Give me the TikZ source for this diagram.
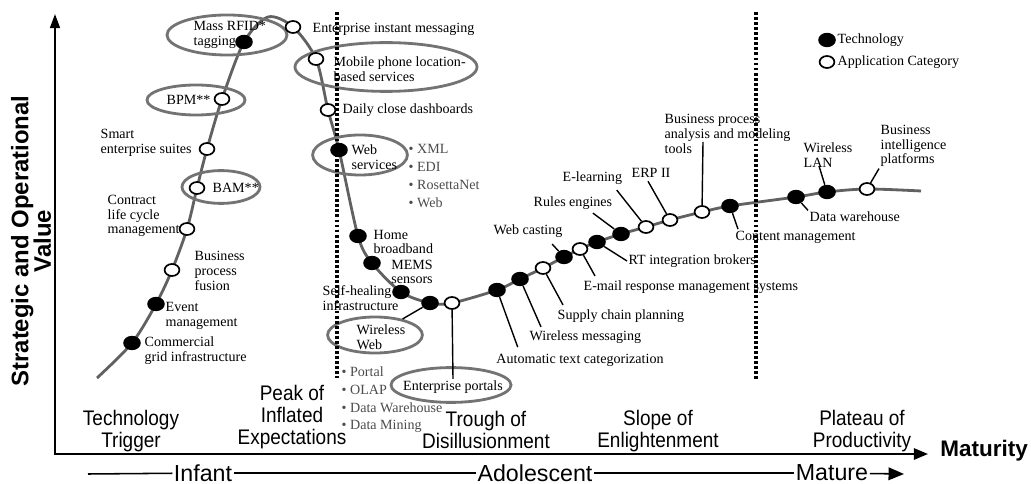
\documentclass[tikz,border=0pt]{standalone}
\usepackage{fontspec}
\setmainfont{Liberation Serif}
\setsansfont{Liberation Sans}
\newfontfamily\phasefont[FakeStretch=0.9]{Liberation Sans}
\usetikzlibrary{shapes.geometric,arrows.meta,calc}

\begin{document}
\begin{tikzpicture}[x=0.025cm,y=-0.025cm]

		\tikzstyle{tech}=[ellipse,fill=black,minimum width=0.44cm,minimum height=0.36cm,inner sep=0]
		\tikzstyle{app}=[ellipse,fill=white,draw=black,line width=1.2pt,
			minimum width=0.37cm,minimum height=0.3cm,inner sep=0]
		\tikzstyle{lbl}=[font=\fontsize{10}{10.5}\selectfont,inner sep=1pt,align=left]
		\tikzstyle{sublist}=[lbl,text=black!70,font=\fontsize{10}{12.6}\selectfont]
		\tikzstyle{ring}=[ellipse,draw=black!55,line width=2pt,inner sep=0]
		\tikzstyle{lead}=[draw=black,line width=1pt]
		\tikzstyle{curve}=[draw=black!62,line width=2pt]
		\tikzstyle{phase}=[font=\phasefont\fontsize{15}{15.5}\selectfont,align=center]
		\tikzstyle{stage}=[font=\sffamily\fontsize{16.5}{16.5}\selectfont,inner sep=1pt]
		\tikzstyle{divider}=[line width=2.2pt,dash pattern=on 2pt off 1.6pt]

		\useasboundingbox (0,0) rectangle (1031,484);

		% points on the hype curve
		\foreach \n/\x/\y in {head/97/378, grid/132/343, event/156/304, fusion/172/270,
			contract/187/229, bam/197/188, smart/207/149, bpm/222/99, rfid/244/42,
			peak/268/17, eim/293/27, mobile/316/59, daily/328/110, websvc/339/150,
			home/358/236, mems/372/263, selfheal/401/292, wweb/430/303, portals/452/303,
			atc/497/290, wmsg/520/279, supply/543/268, webcast/564/257, email/580/249,
			rtib/597/242, rules/621/234, elearn/646/227, erp/670/220, bpa/702/212,
			content/730/206, dwh/796/197, wlan/827/192, bi/867/189, tail/921/191}
			\coordinate (p-\n) at (\x,\y);

		\draw[curve] plot[smooth,tension=0.5] coordinates {(p-head) (p-grid) (p-event) (p-fusion)
			(p-contract) (p-bam) (p-smart) (p-bpm) (p-rfid) (p-peak) (p-eim) (p-mobile)
			(p-daily) (p-websvc) (p-home) (p-mems) (p-selfheal) (p-wweb) (p-portals)
			(p-atc) (p-wmsg) (p-supply) (p-webcast) (p-email) (p-rtib) (p-rules)
			(p-elearn) (p-erp) (p-bpa) (p-content) (p-dwh) (p-wlan) (p-bi) (p-tail)};

		\node[ring,minimum width=3cm,minimum height=1cm]		(e-rfid)	at (227,35)	{};
		\node[ring,minimum width=2.45cm,minimum height=0.75cm]	(e-bpm)		at (196,100)	{};
		\node[ring,minimum width=1.95cm,minimum height=0.82cm]	(e-bam)		at (221,187)	{};
		\node[ring,minimum width=4.55cm,minimum height=1.22cm]	(e-mobile)	at (386,67)	{};
		\node[ring,minimum width=2.37cm,minimum height=1cm]		(e-websvc)	at (360,155)	{};
		\node[ring,minimum width=2.37cm,minimum height=0.9cm]	(e-wweb)	at (375,335)	{};
		\node[ring,minimum width=3cm,minimum height=0.87cm]		(e-portals)	at (451,385)	{};

		\node[lbl,anchor=west]	(t-grid)	at (143,351)	{Commercial\\grid infrastructure};
		\node[lbl,anchor=west]	(t-event)	at (164,316)	{Event\\management};
		\node[lbl,anchor=west]	(t-fusion)	at (193,271)	{Business\\process\\fusion};
		\node[lbl,anchor=west]	(t-contract)	at (106,216)	{Contract\\life cycle\\management};
		\node[lbl,anchor=west]	(t-bam)		at (211,188)	{BAM**};
		\node[lbl,anchor=west]	(t-smart)	at (99,143)	{Smart\\enterprise suites};
		\node[lbl,anchor=west]	(t-bpm)		at (165,100)	{BPM**};
		\node[lbl,anchor=west]	(t-rfid)	at (192,35)	{Mass RFID*\\tagging};
		\node[lbl,anchor=west]	(t-eim)		at (311,29)	{Enterprise instant messaging};
		\node[lbl,anchor=west]	(t-mobile)	at (332,69)	{Mobile phone location-\\based services};
		\node[lbl,anchor=west]	(t-daily)	at (341,110)	{Daily close dashboards};
		\node[lbl,anchor=west]	(t-websvc)	at (350,157)	{Web\\services};
		\node[sublist,anchor=west]	(t-wslist)	at (407,176)	{\textbullet\ XML\\\textbullet\ EDI\\\textbullet\ RosettaNet\\\textbullet\ Web};
		\node[lbl,anchor=west]	(t-home)	at (372,242)	{Home\\broadband};
		\node[lbl,align=center]	(t-mems)	at (412,272)	{MEMS\\sensors};
		\node[lbl,anchor=west]	(t-selfheal)	at (321,298)	{Self-healing\\infrastructure};
		\node[lbl,anchor=west]	(t-wweb)	at (355,337)	{Wireless\\Web};
		\node[sublist,anchor=west]	(t-portlist)	at (340,400)	{\textbullet\ Portal\\\textbullet\ OLAP\\\textbullet\ Data Warehouse\\\textbullet\ Data Mining};
		\node[lbl]		(t-portals)	at (453,387)	{Enterprise portals};
		\node[lbl]		(t-atc)		at (580,360)	{Automatic text categorization};
		\node[lbl,anchor=west]	(t-wmsg)	at (528,337)	{Wireless messaging};
		\node[lbl,anchor=west]	(t-supply)	at (556,316)	{Supply chain planning};
		\node[lbl,anchor=west]	(t-webcast)	at (492,231)	{Web casting};
		\node[lbl,anchor=west]	(t-email)	at (582,287)	{E-mail response management systems};
		\node[lbl,anchor=west]	(t-rtib)	at (627,261)	{RT integration brokers};
		\node[lbl,anchor=west]	(t-rules)	at (532,203)	{Rules engines};
		\node[lbl,anchor=west]	(t-elearn)	at (561,178)	{E-learning};
		\node[lbl,anchor=west]	(t-erp)		at (630,173)	{ERP II};
		\node[lbl,anchor=west]	(t-bpa)		at (663,134)	{Business process\\analysis and modeling\\tools};
		\node[lbl,anchor=west]	(t-content)	at (734,237)	{Content management};
		\node[lbl,anchor=west]	(t-dwh)		at (808,217)	{Data warehouse};
		\node[lbl,anchor=west]	(t-wlan)	at (802,155)	{Wireless\\LAN};
		\node[lbl,anchor=west]	(t-bi)		at (879,146)	{Business\\intelligence\\platforms};

		% phase boundaries
		\coordinate (v1-top) at (337,12);	\coordinate (v1-bot) at (337,378);
		\coordinate (v2-top) at (756,12);	\coordinate (v2-bot) at (756,380);
		\draw[divider] (v1-top) -- (v1-bot);
		\draw[divider] (v2-top) -- (v2-bot);

		\foreach \n in {grid,event,rfid,websvc,home,mems,selfheal,wweb,atc,wmsg,webcast,
			rtib,rules,content,dwh,wlan}
			\node[tech] (\n) at (p-\n) {};
		\foreach \n in {fusion,contract,bam,smart,bpm,eim,mobile,daily,portals,supply,
			email,elearn,erp,bpa,bi}
			\node[app] (\n) at (p-\n) {};

		\draw[lead] (wweb) -- (e-wweb);
		\draw[lead] (portals) -- (t-portals.north);
		\draw[lead] (atc) -- ($(t-atc.north west)+(23,-5)$);
		\draw[lead] (wmsg) -- ($(t-wmsg.north west)+(13,-2)$);
		\draw[lead] (supply) -- ($(t-supply.north west)+(7,-3)$);
		\draw[lead] (webcast) -- ($(t-webcast.south east)+(-12,5)$);
		\draw[lead] (email) -- ($(t-email.north west)+(13,-3)$);
		\draw[lead] (rtib) -- (t-rtib.west);
		\draw[lead] (rules) -- ($(t-rules.south east)+(-21,2)$);
		\draw[lead] (elearn) -- ($(t-elearn.south east)+(-7,4)$);
		\draw[lead] (erp) -- ($(t-erp.south)+(-3,2)$);
		\draw[lead] (bpa) -- ($(t-bpa.north west)+(40,29)$);
		\draw[lead] (content) -- ($(t-content.north west)+(4,0)$);
		\draw[lead] (dwh) -- (t-dwh.north west);
		\draw[lead] (wlan) -- ($(t-wlan.south west)+(17,-3)$);
		\draw[lead] (bi) -- (t-bi.south west);

		% legend
		\node[tech]		(key-tech)	at (827,40)	{};
		\node[lbl,anchor=west]	(key-tech-t)	at (836,40)	{Technology};
		\node[app]		(key-app)	at (827,62)	{};
		\node[lbl,anchor=west]	(key-app-t)	at (836,62)	{Application Category};

		% axes
		\coordinate (ytop) at (55,14);
		\coordinate (orig) at (55,454);
		\coordinate (xend) at (928,454);
		\draw[line width=1.4pt,{Triangle[length=10pt,width=7pt]}-{Triangle[length=10pt,width=8pt]}] (ytop) -- (orig) -- (xend);

		\node[font=\sffamily\bfseries\fontsize{17}{16}\selectfont,rotate=90,align=center]	(value)	at (31,241)	{Strategic and Operational\\Value};
		\node[font=\sffamily\bfseries\fontsize{16}{18}\selectfont]	(maturity)	at (984,451)	{Maturity};

		\node[phase]	(trigger)	at (131,431)	{Technology\\Trigger};
		\node[phase]	(peakph)	at (292,417)	{Peak of\\Inflated\\Expectations};
		\node[phase]	(trough)	at (486,430)	{Trough of\\Disillusionment};
		\node[phase]	(slope)		at (658,431)	{Slope of\\Enlightenment};
		\node[phase]	(plateau)	at (862,431)	{Plateau of\\Productivity};

		% life stages
		\coordinate (s-start) at (88,474);
		\coordinate (s-end) at (904,474);
		\node[stage]	(infant)	at (203,473)	{Infant};
		\node[stage]	(adolescent)	at (535,473)	{Adolescent};
		\node[stage]	(mature)	at (832,473)	{Mature};
		\draw[line width=1.1pt] (s-start) -- (infant);
		\draw[line width=1.1pt] (infant) -- (adolescent);
		\draw[line width=1.1pt] (adolescent) -- (mature);
		\draw[line width=1.1pt,-{Triangle[length=11pt,width=9pt]}] (mature) -- (s-end);

	\end{tikzpicture}
\end{document}
